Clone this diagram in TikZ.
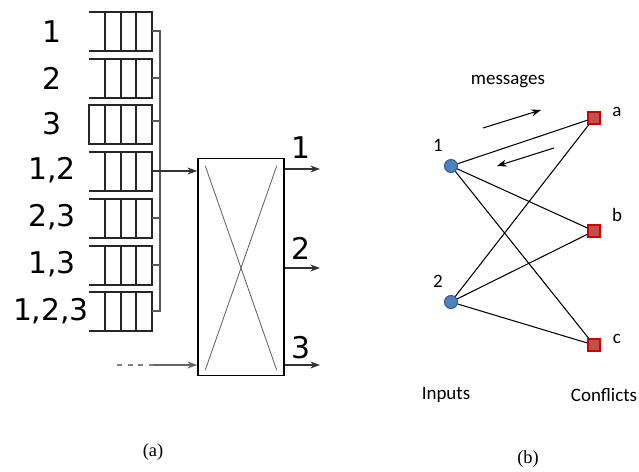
\documentclass[tikz,border=0pt]{standalone}
\usepackage{fontspec}
\setmainfont{Liberation Serif}
\newfontfamily\labfont{DejaVu Sans}
\newfontfamily\calfont{Carlito}
\usetikzlibrary{arrows.meta}
\definecolor{inblue}{HTML}{4F81BD}
\definecolor{inborder}{HTML}{385D8A}
\definecolor{confred}{HTML}{C0504D}
\definecolor{confborder}{HTML}{D00000}
\tikzset{
  queue/.style={line width=0.85pt,draw=black!85},
  bus/.style={line width=0.6pt,draw=black!65},
  qlabel/.style={font=\labfont\fontsize{17}{19}\selectfont,inner sep=0pt},
  blabel/.style={font=\calfont\fontsize{10.8}{12}\selectfont,inner sep=0pt},
  inp/.style={circle,fill=inblue,draw=inborder,line width=0.6pt,minimum size=0.26cm,inner sep=0pt},
  conf/.style={rectangle,fill=confred,draw=confborder,line width=0.9pt,minimum size=0.24cm,inner sep=0pt},
  >={Stealth[length=5.5pt,width=4pt]}
}
\begin{document}
\begin{tikzpicture}[x=0.02cm,y=-0.02cm]
  \useasboundingbox (0,0) rectangle (639,472);
  % (a) queues
  \foreach \i/\y in {1/12,2/59,4/152,5/199,6/246,7/292} {
    \draw[queue] (89,\y) -- ++(63,0) -- ++(0,39) -- ++(-63,0);
    \foreach \dx in {16,32,47} \draw[queue] (89+\dx,\y) -- ++(0,39);
    \coordinate (q\i) at (152,\y+19);
  }
  \draw[queue,line width=1.25pt] (89,105) rectangle ++(63,39);
  \foreach \dx in {16,32,47} \draw[queue,line width=1.25pt] (89+\dx,105) -- ++(0,39);
  \coordinate (q3) at (152,121);
  \node[qlabel] (l1) at (52,32)  {1};
  \node[qlabel] (l2) at (52,78)  {2};
  \node[qlabel] (l3) at (52,124) {3};
  \node[qlabel] (l4) at (52,170) {1,2};
  \node[qlabel] (l5) at (52,217) {2,3};
  \node[qlabel] (l6) at (52,264) {1,3};
  \node[qlabel] (l7) at (51,311) {1,2,3};
  % bus
  \coordinate (btop) at (160,31);
  \coordinate (bbot) at (160,311);
  \draw[bus] (q1) -- (q1 -| btop) -- (bbot) -- (q7);
  \foreach \i in {2,3,5,6} \draw[bus] (q\i) -- (q\i -| btop);
  % switch
  \node[draw,line width=0.9pt,minimum width=1.72cm,minimum height=4.34cm,inner sep=0pt] (sw) at (241,267) {};
  \draw[black!60,line width=0.5pt] ([shift={(8,8)}]sw.north west) -- ([shift={(-8,-6)}]sw.south east);
  \draw[black!60,line width=0.5pt] ([shift={(-8,8)}]sw.north east) -- ([shift={(8,-6)}]sw.south west);
  \draw[->,black!80,line width=0.6pt] (q4) -- (q4 -| sw.west);
  \coordinate (in0) at (117,365);
  \coordinate (in1) at (153,365);
  \draw[dashed,black!50,line width=0.6pt] (in0) -- (in1);
  \draw[->,black!60,line width=0.6pt] (in1) -- (in1 -| sw.west);
  \coordinate (o1) at (320,169);
  \coordinate (o2) at (320,268);
  \coordinate (o3) at (320,365);
  \foreach \i in {1,2,3} \draw[->,black!80,line width=0.6pt] (o\i -| sw.east) -- (o\i);
  \node[qlabel] (ol1) at (301,148) {1};
  \node[qlabel] (ol2) at (301,248) {2};
  \node[qlabel] (ol3) at (301,348) {3};
  % (b) graph
  \node[inp]  (i1) at (451,166) {};
  \node[inp]  (i2) at (451,302) {};
  \node[conf] (ca) at (594,118) {};
  \node[conf] (cb) at (594,231) {};
  \node[conf] (cc) at (594,345) {};
  \foreach \s in {i1,i2}
    \foreach \t in {ca,cb,cc}
      \draw[line width=0.6pt] (\s) -- (\t);
  \node[blabel] (n1) at (438,145) {1};
  \node[blabel] (n2) at (438,281) {2};
  \node[blabel] (na) at (617,112) {a};
  \node[blabel] (nb) at (617,215) {b};
  \node[blabel] (nc) at (617,339) {c};
  \node[blabel] (msg) at (508,82) {messages};
  \coordinate (m1) at (483,128);
  \coordinate (m2) at (541,110);
  \coordinate (m3) at (554,148);
  \coordinate (m4) at (497,166);
  \draw[->,line width=0.6pt] (m1) -- (m2);
  \draw[->,line width=0.6pt] (m3) -- (m4);
  \node[blabel] (inputs) at (446,395) {Inputs};
  \node[blabel] (confl) at (604,395) {Conflicts};
  % captions
  \node[font=\fontsize{10.5}{12}\selectfont] (capa) at (153,452) {(a)};
  \node[font=\fontsize{10.5}{12}\selectfont] (capb) at (528,459) {(b)};
\end{tikzpicture}
\end{document}
